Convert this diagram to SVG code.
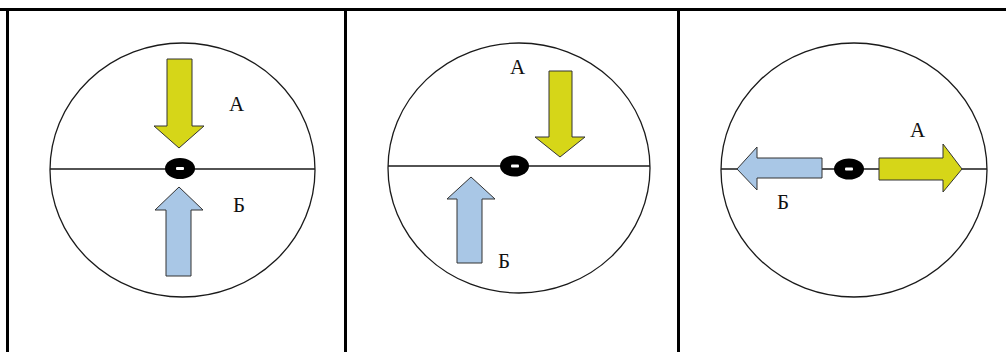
<svg xmlns="http://www.w3.org/2000/svg" width="1006" height="352" viewBox="0 0 1006 352">
  <style>
    .frame { stroke: #000; stroke-width: 3; fill: none; }
    .circle { fill: #fff; stroke: #1a1a1a; stroke-width: 1.3; }
    .axis { stroke: #1a1a1a; stroke-width: 1.3; }
    .eye { fill: #000; }
    .pupil { fill: #fff; }
    .ya { fill: #d6d618; stroke: #333; stroke-width: 1; }
    .ba { fill: #a9c7e6; stroke: #333; stroke-width: 1; }
    .lbl { font-family: "Liberation Serif", "DejaVu Serif", serif; font-size: 21px; fill: #111; }
  </style>
  <rect width="1006" height="352" fill="#fff"/>
  <g id="table">
    <line class="frame" x1="0" y1="9.5" x2="1006" y2="9.5"/>
    <line class="frame" x1="7.5" y1="8" x2="7.5" y2="352"/>
    <line class="frame" x1="345.5" y1="8" x2="345.5" y2="352"/>
    <line class="frame" x1="678.5" y1="8" x2="678.5" y2="352"/>
  </g>

  <g id="panel1">
    <ellipse class="circle" cx="182.5" cy="170" rx="132.5" ry="127"/>
    <line class="axis" x1="50" y1="169" x2="315" y2="169"/>
    <polygon class="ya" points="167,59 192,59 192,126 204,126 179,148 154,126 167,126"/>
    <polygon class="ba" points="179,187 203,210 191,210 191,276 166,276 166,210 155,210"/>
    <ellipse class="eye" cx="180" cy="168.5" rx="15" ry="10.5"/>
    <rect class="pupil" x="176" y="167" width="8" height="3" rx="1"/>
    <text class="lbl" x="229" y="111">А</text>
    <text class="lbl" x="233" y="212">Б</text>
  </g>

  <g id="panel2">
    <ellipse class="circle" cx="519" cy="168" rx="131" ry="125"/>
    <line class="axis" x1="388" y1="166" x2="650" y2="166"/>
    <polygon class="ya" points="549,71 572,71 572,137 585,137 560,157 535,137 549,137"/>
    <polygon class="ba" points="471,177 495,199 482,199 482,263 457,263 457,199 447,199"/>
    <ellipse class="eye" cx="514.5" cy="166" rx="14.5" ry="10.5"/>
    <rect class="pupil" x="511" y="164.5" width="8" height="3" rx="1"/>
    <text class="lbl" x="510" y="74">А</text>
    <text class="lbl" x="498" y="268">Б</text>
  </g>

  <g id="panel3">
    <ellipse class="circle" cx="854" cy="170" rx="133" ry="127"/>
    <line class="axis" x1="721" y1="169" x2="987" y2="169"/>
    <polygon class="ba" points="737,169 757,147 757,158 822,158 822,178 757,178 757,190"/>
    <polygon class="ya" points="879,158 943,158 943,144 962,169 943,192 943,180 879,180"/>
    <ellipse class="eye" cx="849" cy="169" rx="15" ry="10.5"/>
    <rect class="pupil" x="845" y="167.5" width="8" height="3" rx="1"/>
    <text class="lbl" x="910" y="137">А</text>
    <text class="lbl" x="777" y="209">Б</text>
  </g>
</svg>
